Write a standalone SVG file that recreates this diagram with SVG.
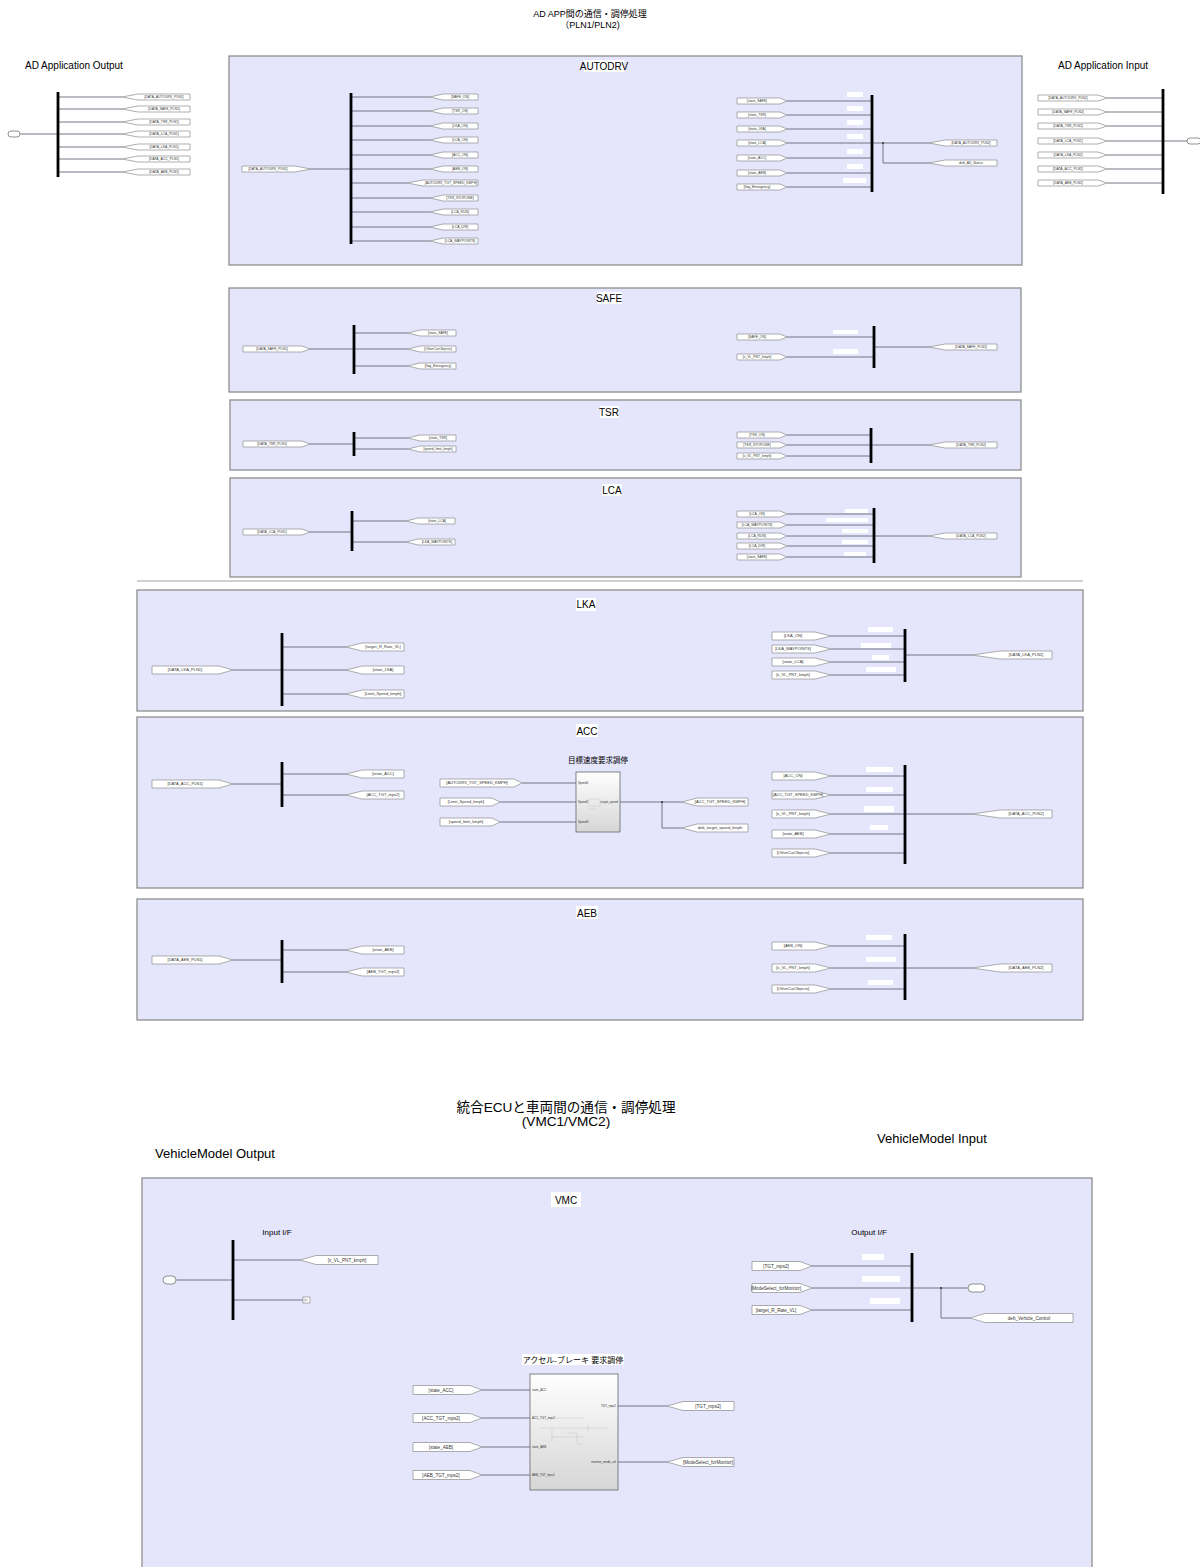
<svg xmlns="http://www.w3.org/2000/svg" width="1200" height="1567" viewBox="0 0 1200 1567">
<style>
.box{fill:#e5e5fb;stroke:#8e8e8e;stroke-width:1.3}
.tag{fill:#fff;stroke:#8c8c8c;stroke-width:0.7}
.ln{fill:none;stroke:#66667c;stroke-width:0.9}
.bus{stroke:#000;stroke-width:2.8}
.mask{fill:#fff}
.port{fill:#fff;stroke:#777;stroke-width:0.8}
.dot{fill:#333}
.s{font-family:"Liberation Sans",Arial,sans-serif;fill:#333;text-anchor:middle;font-size:3.4px}
.m{font-family:"Liberation Sans",Arial,sans-serif;fill:#333;text-anchor:middle;font-size:4px}
.v{font-family:"Liberation Sans",Arial,sans-serif;fill:#333;text-anchor:middle;font-size:4.6px}
.h{font-family:"Liberation Sans",Arial,sans-serif;fill:#000;font-size:10px}
.h2{font-family:"Liberation Sans",Arial,sans-serif;fill:#000;font-size:13px}
.ttl{font-family:"Liberation Sans",Arial,sans-serif;fill:#000;text-anchor:middle;font-size:10px}
.jp{font-family:"Liberation Sans","Noto Sans CJK JP",sans-serif;fill:#000;text-anchor:middle}
.blk{fill:url(#g);stroke:#666;stroke-width:0.8}
.pl{font-family:"Liberation Sans",Arial,sans-serif;fill:#333;font-size:3px}
.pr{font-family:"Liberation Sans",Arial,sans-serif;fill:#333;font-size:3px;text-anchor:end}
.faint{fill:none;stroke:#bbb;stroke-width:0.4}
</style>
<defs>
<linearGradient id="g" x1="0" y1="0" x2="0" y2="1"><stop offset="0" stop-color="#ffffff"/><stop offset="1" stop-color="#d6d6d6"/></linearGradient>
</defs>
<rect width="1200" height="1567" fill="#fff"/>

<!-- headers -->
<g id="headers">
<text class="jp" x="590" y="17" font-size="9">AD APP間の通信・調停処理</text>
<text class="jp" x="590" y="28" font-size="9">（PLN1/PLN2)</text>
<text class="h" x="25" y="69">AD Application Output</text>
<text class="h" x="1058" y="69">AD Application Input</text>
<text class="jp" x="566" y="1112" font-size="13.6">統合ECUと車両間の通信・調停処理</text>
<text class="jp" x="566" y="1126" font-size="13.6">(VMC1/VMC2)</text>
<text class="h2" x="877" y="1143">VehicleModel Input</text>
<text class="h2" x="155" y="1158">VehicleModel Output</text>
</g>

<!-- subsystem areas -->
<g id="AUTODRV"><rect class="box" x="229" y="56" width="793" height="209"/><rect class="mask" x="584" y="60" width="40" height="12"/><text class="ttl" x="604" y="70">AUTODRV</text></g>
<g id="SAFE"><rect class="box" x="229" y="288" width="792" height="104"/><rect class="mask" x="597" y="292" width="25" height="12"/><text class="ttl" x="609" y="302">SAFE</text></g>
<g id="TSR"><rect class="box" x="230" y="400" width="791" height="70"/><rect class="mask" x="600" y="406" width="19" height="12"/><text class="ttl" x="609" y="416">TSR</text></g>
<g id="LCA"><rect class="box" x="230" y="478" width="791" height="99"/><rect class="mask" x="602" y="484" width="20" height="12"/><text class="ttl" x="612" y="494">LCA</text></g>
<g id="LKA"><rect class="box" x="137" y="590" width="946" height="121"/><rect class="mask" x="576" y="598" width="20" height="13"/><text class="ttl" x="586" y="608" font-size="11">LKA</text></g>
<g id="ACC"><rect class="box" x="137" y="717" width="946" height="171"/><rect class="mask" x="576" y="724" width="22" height="13"/><text class="ttl" x="587" y="735" font-size="11">ACC</text></g>
<g id="AEB"><rect class="box" x="137" y="899" width="946" height="121"/><rect class="mask" x="576" y="906" width="22" height="13"/><text class="ttl" x="587" y="917" font-size="11">AEB</text></g>
<g id="VMC"><rect class="box" x="142" y="1178" width="950" height="400"/><rect class="mask" x="551" y="1192" width="30" height="15"/><text class="ttl" x="566" y="1204" font-size="13">VMC</text>
<text class="jp" x="277" y="1235" font-size="8">Input I/F</text><text class="jp" x="869" y="1235" font-size="8">Output I/F</text></g>
<line id="separator" x1="137" y1="581" x2="1083" y2="581" stroke="#888" stroke-width="0.8"/>

<!-- connectors -->
<g id="connectors" class="ln">
<path d="M20 134H58M58 97H122M58 109H122M58 122H122M58 134H122M58 147H122M58 159H122M58 172H122"/>
<path d="M311 169H351M351 97H430M351 111H430M351 126H430M351 140H430M351 155H430M351 169H430M351 183H407M351 198H430M351 212H430M351 227H430M351 241H430"/>
<path d="M787 101H872M787 115H872M787 129H872M787 143H872M787 158H872M787 173H872M787 187H872M872 143H929M883 143V163H929"/>
<path d="M1107 98H1163M1107 112H1163M1107 126H1163M1107 141H1163M1107 155H1163M1107 169H1163M1107 183H1163M1163 141H1187"/>
<path d="M310 349H354M354 333H408M354 349H408M354 366H408M787 337H874M787 357H874M874 347H929"/>
<path d="M310 444H354M354 438H408M354 449H408M787 435H871M787 445H871M787 456H871M871 445H929"/>
<path d="M310 532H352M352 521H406M352 542H406M787 514H874M787 525H874M787 536H874M787 546H874M787 557H874M874 536H929"/>
<path d="M233 670H282M282 647H346M282 670H346M282 694H346M831 636H905M831 649H905M831 662H905M831 675H905M905 655H972"/>
<path d="M233 784H282M282 774H346M282 795H346M522 783H576M500 802H576M500 822H576M620 802H682M662 802V828H682M831 776H905M831 795H905M831 814H905M831 834H905M831 853H905M905 814H972"/>
<path d="M233 960H282M282 950H346M282 972H346M831 946H905M831 968H905M831 989H905M905 968H972"/>
<path d="M176 1280H233M233 1260H300M233 1300H303M812 1266H912M812 1288H912M812 1310H912M912 1288H968M941 1288V1318H970"/>
<path d="M482 1390H530M482 1418H530M482 1447H530M482 1475H530M618 1406H667M618 1462H667"/>
</g>

<!-- buses -->
<g id="buses" class="bus">
<line id="bus_ado" x1="58" y1="92" x2="58" y2="177"/>
<line id="bus_ad1" x1="351" y1="93" x2="351" y2="244"/>
<line id="bus_ad2" x1="872" y1="95" x2="872" y2="192"/>
<line id="bus_adi" x1="1163" y1="89" x2="1163" y2="194"/>
<line id="bus_sf1" x1="354" y1="325" x2="354" y2="374"/>
<line id="bus_sf2" x1="874" y1="326" x2="874" y2="368"/>
<line id="bus_ts1" x1="354" y1="432" x2="354" y2="456"/>
<line id="bus_ts2" x1="871" y1="428" x2="871" y2="463"/>
<line id="bus_lc1" x1="352" y1="511" x2="352" y2="551"/>
<line id="bus_lc2" x1="874" y1="508" x2="874" y2="563"/>
<line id="bus_lk1" x1="282" y1="633" x2="282" y2="706"/>
<line id="bus_lk2" x1="905" y1="629" x2="905" y2="682"/>
<line id="bus_ac1" x1="282" y1="762" x2="282" y2="807"/>
<line id="bus_ac2" x1="905" y1="765" x2="905" y2="864"/>
<line id="bus_ae1" x1="282" y1="940" x2="282" y2="983"/>
<line id="bus_ae2" x1="905" y1="934" x2="905" y2="1000"/>
<line id="bus_vm1" x1="233" y1="1240" x2="233" y2="1320"/>
<line id="bus_vm2" x1="912" y1="1253" x2="912" y2="1322"/>
</g>

<!-- dots -->
<g id="dots" class="dot">
<circle cx="883" cy="143" r="1"/><circle cx="662" cy="802" r="1"/><circle cx="941" cy="1288" r="1"/>
</g>

<!-- masks (hidden labels) -->
<g id="masks" class="mask">
<rect x="847" y="92" width="16" height="5"/><rect x="847" y="106" width="16" height="5"/><rect x="847" y="120" width="16" height="5"/><rect x="847" y="134" width="16" height="5"/><rect x="847" y="149" width="16" height="5"/><rect x="847" y="164" width="16" height="5"/><rect x="843" y="178" width="23" height="5"/>
<rect x="833" y="330" width="25" height="4"/><rect x="833" y="349" width="25" height="5"/>
<rect x="845" y="509" width="23" height="4"/><rect x="826" y="518" width="42" height="4"/><rect x="842" y="529" width="26" height="4"/><rect x="842" y="540" width="26" height="4"/><rect x="844" y="552" width="22" height="4"/>
<rect x="868" y="627" width="25" height="5"/><rect x="861" y="643" width="30" height="5"/><rect x="872" y="655" width="17" height="5"/><rect x="866" y="667" width="30" height="5"/>
<rect x="866" y="767" width="27" height="5"/><rect x="866" y="787" width="27" height="5"/><rect x="864" y="806" width="30" height="6"/><rect x="870" y="825" width="18" height="5"/>
<rect x="866" y="935" width="26" height="5"/><rect x="866" y="957" width="30" height="5"/><rect x="868" y="980" width="25" height="5"/>
<rect x="862" y="1254" width="22" height="6"/><rect x="862" y="1276" width="38" height="6"/><rect x="870" y="1298" width="30" height="6"/>
</g>

<!-- ports -->
<g id="port_ado"><rect class="port" x="8" y="131" width="12" height="6" rx="3"/></g>
<g id="port_adi"><rect class="port" x="1187" y="138" width="14" height="6" rx="3"/></g>
<g id="port_vmin"><rect class="port" x="163" y="1276" width="13" height="8" rx="4"/></g>
<g id="port_vmout"><rect class="port" x="968" y="1284" width="17" height="8" rx="4"/></g>
<g id="term_vm"><rect class="tag" x="303" y="1297" width="7" height="6"/><path d="M305 1298.5V1301.5M305 1300H308" stroke="#666" stroke-width="0.5"/></g>

<!-- AD Application Output gotos -->
<g id="ado1"><polygon class="tag" points="122,97 138,94 190,94 190,100 138,100"/><text class="s" x="164" y="98.2">[DATA_AUTODRV_PLN1]</text></g>
<g id="ado2"><polygon class="tag" points="122,109 138,106 190,106 190,112 138,112"/><text class="s" x="164" y="110.2">[DATA_SAFE_PLN1]</text></g>
<g id="ado3"><polygon class="tag" points="122,122 138,119 190,119 190,125 138,125"/><text class="s" x="164" y="123.2">[DATA_TSR_PLN1]</text></g>
<g id="ado4"><polygon class="tag" points="122,134 138,131 190,131 190,137 138,137"/><text class="s" x="164" y="135.2">[DATA_LCA_PLN1]</text></g>
<g id="ado5"><polygon class="tag" points="122,147 138,144 190,144 190,150 138,150"/><text class="s" x="164" y="148.2">[DATA_LKA_PLN1]</text></g>
<g id="ado6"><polygon class="tag" points="122,159 138,156 190,156 190,162 138,162"/><text class="s" x="164" y="160.2">[DATA_ACC_PLN1]</text></g>
<g id="ado7"><polygon class="tag" points="122,172 138,169 190,169 190,175 138,175"/><text class="s" x="164" y="173.2">[DATA_AEB_PLN1]</text></g>

<!-- AUTODRV -->
<g id="ad_in"><polygon class="tag" points="242,166 295,166 311,169 295,172 242,172"/><text class="s" x="268" y="170.2">[DATA_AUTODRV_PLN1]</text></g>
<g id="ad_o1"><polygon class="tag" points="430,97 443,94 478,94 478,100 443,100"/><text class="s" x="460" y="98.2">[SAFE_ON]</text></g>
<g id="ad_o2"><polygon class="tag" points="430,111 443,108 478,108 478,114 443,114"/><text class="s" x="460" y="112.2">[TSR_ON]</text></g>
<g id="ad_o3"><polygon class="tag" points="430,126 443,123 478,123 478,129 443,129"/><text class="s" x="460" y="127.2">[LKA_ON]</text></g>
<g id="ad_o4"><polygon class="tag" points="430,140 443,137 478,137 478,143 443,143"/><text class="s" x="460" y="141.2">[LCA_ON]</text></g>
<g id="ad_o5"><polygon class="tag" points="430,155 443,152 478,152 478,158 443,158"/><text class="s" x="460" y="156.2">[ACC_ON]</text></g>
<g id="ad_o6"><polygon class="tag" points="430,169 443,166 478,166 478,172 443,172"/><text class="s" x="460" y="170.2">[AEB_ON]</text></g>
<g id="ad_o7"><polygon class="tag" points="407,183 423,180 478,180 478,186 423,186"/><text class="s" x="451" y="184.2">[AUTODRV_TGT_SPEED_KMPH]</text></g>
<g id="ad_o8"><polygon class="tag" points="430,198 443,195 478,195 478,201 443,201"/><text class="s" x="460" y="199.2">[TSR_STOPLINE]</text></g>
<g id="ad_o9"><polygon class="tag" points="430,212 443,209 478,209 478,215 443,215"/><text class="s" x="460" y="213.2">[LCA_RUN]</text></g>
<g id="ad_o10"><polygon class="tag" points="430,227 443,224 478,224 478,230 443,230"/><text class="s" x="460" y="228.2">[LCA_DIR]</text></g>
<g id="ad_o11"><polygon class="tag" points="430,241 443,238 478,238 478,244 443,244"/><text class="s" x="460" y="242.2">[LCA_WAYPOINTS]</text></g>
<g id="ad_f1"><polygon class="tag" points="737,98 780,98 787,101 780,104 737,104"/><text class="s" x="757" y="102.2">[state_SAFE]</text></g>
<g id="ad_f2"><polygon class="tag" points="737,112 780,112 787,115 780,118 737,118"/><text class="s" x="757" y="116.2">[state_TSR]</text></g>
<g id="ad_f3"><polygon class="tag" points="737,126 780,126 787,129 780,132 737,132"/><text class="s" x="757" y="130.2">[state_LKA]</text></g>
<g id="ad_f4"><polygon class="tag" points="737,140 780,140 787,143 780,146 737,146"/><text class="s" x="757" y="144.2">[state_LCA]</text></g>
<g id="ad_f5"><polygon class="tag" points="737,155 780,155 787,158 780,161 737,161"/><text class="s" x="757" y="159.2">[state_ACC]</text></g>
<g id="ad_f6"><polygon class="tag" points="737,170 780,170 787,173 780,176 737,176"/><text class="s" x="757" y="174.2">[state_AEB]</text></g>
<g id="ad_f7"><polygon class="tag" points="737,184 780,184 787,187 780,190 737,190"/><text class="s" x="757" y="188.2">[flag_Emergency]</text></g>
<g id="ad_out"><polygon class="tag" points="929,143 945,140 997,140 997,146 945,146"/><text class="s" x="971" y="144.2">[DATA_AUTODRV_PLN2]</text></g>
<g id="ad_deb"><polygon class="tag" points="929,163 945,160 997,160 997,166 945,166"/><text class="s" x="971" y="164.2">deb_AD_Status</text></g>

<!-- AD Application Input froms -->
<g id="adi1"><polygon class="tag" points="1038,95 1098,95 1107,98 1098,101 1038,101"/><text class="s" x="1068" y="99.2">[DATA_AUTODRV_PLN2]</text></g>
<g id="adi2"><polygon class="tag" points="1038,109 1098,109 1107,112 1098,115 1038,115"/><text class="s" x="1068" y="113.2">[DATA_SAFE_PLN2]</text></g>
<g id="adi3"><polygon class="tag" points="1038,123 1098,123 1107,126 1098,129 1038,129"/><text class="s" x="1068" y="127.2">[DATA_TSR_PLN2]</text></g>
<g id="adi4"><polygon class="tag" points="1038,138 1098,138 1107,141 1098,144 1038,144"/><text class="s" x="1068" y="142.2">[DATA_LCA_PLN2]</text></g>
<g id="adi5"><polygon class="tag" points="1038,152 1098,152 1107,155 1098,158 1038,158"/><text class="s" x="1068" y="156.2">[DATA_LKA_PLN2]</text></g>
<g id="adi6"><polygon class="tag" points="1038,166 1098,166 1107,169 1098,172 1038,172"/><text class="s" x="1068" y="170.2">[DATA_ACC_PLN2]</text></g>
<g id="adi7"><polygon class="tag" points="1038,180 1098,180 1107,183 1098,186 1038,186"/><text class="s" x="1068" y="184.2">[DATA_AEB_PLN2]</text></g>

<!-- SAFE -->
<g id="sf_in"><polygon class="tag" points="243,346 302,346 310,349 302,352 243,352"/><text class="s" x="272" y="350.2">[DATA_SAFE_PLN1]</text></g>
<g id="sf_o1"><polygon class="tag" points="408,333 420,330 456,330 456,336 420,336"/><text class="s" x="438" y="334.2">[state_SAFE]</text></g>
<g id="sf_o2"><polygon class="tag" points="408,349 420,346 456,346 456,352 420,352"/><text class="s" x="438" y="350.2">[OtherCarObjects]</text></g>
<g id="sf_o3"><polygon class="tag" points="408,366 420,363 456,363 456,369 420,369"/><text class="s" x="438" y="367.2">[flag_Emergency]</text></g>
<g id="sf_f1"><polygon class="tag" points="737,334 780,334 787,337 780,340 737,340"/><text class="s" x="757" y="338.2">[SAFE_ON]</text></g>
<g id="sf_f2"><polygon class="tag" points="737,354 780,354 787,357 780,360 737,360"/><text class="s" x="757" y="358.2">[v_VL_PNT_kmph]</text></g>
<g id="sf_out"><polygon class="tag" points="929,347 945,344 997,344 997,350 945,350"/><text class="s" x="971" y="348.2">[DATA_SAFE_PLN2]</text></g>

<!-- TSR -->
<g id="ts_in"><polygon class="tag" points="243,441 302,441 310,444 302,447 243,447"/><text class="s" x="272" y="445.2">[DATA_TSR_PLN1]</text></g>
<g id="ts_o1"><polygon class="tag" points="408,438 420,435 456,435 456,441 420,441"/><text class="s" x="438" y="439.2">[state_TSR]</text></g>
<g id="ts_o2"><polygon class="tag" points="408,449 420,446 456,446 456,452 420,452"/><text class="s" x="438" y="450.2">[speed_limit_kmph]</text></g>
<g id="ts_f1"><polygon class="tag" points="737,432 780,432 787,435 780,438 737,438"/><text class="s" x="757" y="436.2">[TSR_ON]</text></g>
<g id="ts_f2"><polygon class="tag" points="737,442 780,442 787,445 780,448 737,448"/><text class="s" x="757" y="446.2">[TSR_STOPLINE]</text></g>
<g id="ts_f3"><polygon class="tag" points="737,453 780,453 787,456 780,459 737,459"/><text class="s" x="757" y="457.2">[v_VL_PNT_kmph]</text></g>
<g id="ts_out"><polygon class="tag" points="929,445 945,442 997,442 997,448 945,448"/><text class="s" x="971" y="446.2">[DATA_TSR_PLN2]</text></g>

<!-- LCA -->
<g id="lc_in"><polygon class="tag" points="243,529 302,529 310,532 302,535 243,535"/><text class="s" x="272" y="533.2">[DATA_LCA_PLN1]</text></g>
<g id="lc_o1"><polygon class="tag" points="406,521 418,518 455,518 455,524 418,524"/><text class="s" x="437" y="522.2">[state_LCA]</text></g>
<g id="lc_o2"><polygon class="tag" points="406,542 418,539 455,539 455,545 418,545"/><text class="s" x="437" y="543.2">[LKA_WAYPOINTS]</text></g>
<g id="lc_f1"><polygon class="tag" points="737,511 780,511 787,514 780,517 737,517"/><text class="s" x="757" y="515.2">[LCA_ON]</text></g>
<g id="lc_f2"><polygon class="tag" points="737,522 780,522 787,525 780,528 737,528"/><text class="s" x="757" y="526.2">[LCA_WAYPOINTS]</text></g>
<g id="lc_f3"><polygon class="tag" points="737,533 780,533 787,536 780,539 737,539"/><text class="s" x="757" y="537.2">[LCA_RUN]</text></g>
<g id="lc_f4"><polygon class="tag" points="737,543 780,543 787,546 780,549 737,549"/><text class="s" x="757" y="547.2">[LCA_DIR]</text></g>
<g id="lc_f5"><polygon class="tag" points="737,554 780,554 787,557 780,560 737,560"/><text class="s" x="757" y="558.2">[state_SAFE]</text></g>
<g id="lc_out"><polygon class="tag" points="929,536 945,533 997,533 997,539 945,539"/><text class="s" x="971" y="537.2">[DATA_LCA_PLN2]</text></g>

<!-- LKA -->
<g id="lk_in"><polygon class="tag" points="152,666 219,666 233,670 219,674 152,674"/><text class="m" x="185" y="671.4">[DATA_LKA_PLN1]</text></g>
<g id="lk_o1"><polygon class="tag" points="346,647 362,643 404,643 404,651 362,651"/><text class="m" x="383" y="648.4">[target_R_Rate_VL]</text></g>
<g id="lk_o2"><polygon class="tag" points="346,670 362,666 404,666 404,674 362,674"/><text class="m" x="383" y="671.4">[state_LKA]</text></g>
<g id="lk_o3"><polygon class="tag" points="346,694 362,690 404,690 404,698 362,698"/><text class="m" x="383" y="695.4">[Limit_Speed_kmph]</text></g>
<g id="lk_f1"><polygon class="tag" points="772,632 815,632 831,636 815,640 772,640"/><text class="m" x="793" y="637.4">[LKA_ON]</text></g>
<g id="lk_f2"><polygon class="tag" points="772,645 815,645 831,649 815,653 772,653"/><text class="m" x="793" y="650.4">[LKA_WAYPOINTS]</text></g>
<g id="lk_f3"><polygon class="tag" points="772,658 815,658 831,662 815,666 772,666"/><text class="m" x="793" y="663.4">[state_LCA]</text></g>
<g id="lk_f4"><polygon class="tag" points="772,671 815,671 831,675 815,679 772,679"/><text class="m" x="793" y="676.4">[v_VL_PNT_kmph]</text></g>
<g id="lk_out"><polygon class="tag" points="972,655 1000,651 1052,651 1052,659 1000,659"/><text class="m" x="1026" y="656.4">[DATA_LKA_PLN2]</text></g>

<!-- ACC -->
<g id="ac_in"><polygon class="tag" points="152,780 219,780 233,784 219,788 152,788"/><text class="m" x="185" y="785.4">[DATA_ACC_PLN1]</text></g>
<g id="ac_o1"><polygon class="tag" points="346,774 362,770 404,770 404,778 362,778"/><text class="m" x="383" y="775.4">[state_ACC]</text></g>
<g id="ac_o2"><polygon class="tag" points="346,795 362,791 404,791 404,799 362,799"/><text class="m" x="383" y="796.4">[ACC_TGT_mps2]</text></g>
<g id="ac_blk"><text class="jp" x="598" y="763" font-size="7.5">目標速度要求調停</text><rect class="blk" x="576" y="772" width="44" height="60"/>
<text class="pl" x="578" y="784">Speed1</text><text class="pl" x="578" y="803">Speed2</text><text class="pl" x="578" y="823">Speed3</text><text class="pr" x="618" y="803">target_speed</text>
<path class="faint" d="M588 799H600V806H588M600 802H606M589 809H596"/></g>
<g id="ac_s1"><polygon class="tag" points="440,779 514,779 522,783 514,787 440,787"/><text class="m" x="477" y="784.4">[AUTODRV_TGT_SPEED_KMPH]</text></g>
<g id="ac_s2"><polygon class="tag" points="440,798 492,798 500,802 492,806 440,806"/><text class="m" x="466" y="803.4">[Limit_Speed_kmph]</text></g>
<g id="ac_s3"><polygon class="tag" points="440,818 492,818 500,822 492,826 440,826"/><text class="m" x="466" y="823.4">[speed_limit_kmph]</text></g>
<g id="ac_t1"><polygon class="tag" points="682,802 697,798 748,798 748,806 697,806"/><text class="m" x="720" y="803.4">[ACC_TGT_SPEED_KMPH]</text></g>
<g id="ac_t2"><polygon class="tag" points="682,828 697,824 748,824 748,832 697,832"/><text class="m" x="720" y="829.4">deb_target_speed_kmph</text></g>
<g id="ac_f1"><polygon class="tag" points="772,772 815,772 831,776 815,780 772,780"/><text class="m" x="793" y="777.4">[ACC_ON]</text></g>
<g id="ac_f2"><polygon class="tag" points="772,791 815,791 831,795 815,799 772,799"/><text class="m" x="798" y="796.4">[ACC_TGT_SPEED_KMPH]</text></g>
<g id="ac_f3"><polygon class="tag" points="772,810 815,810 831,814 815,818 772,818"/><text class="m" x="793" y="815.4">[v_VL_PNT_kmph]</text></g>
<g id="ac_f4"><polygon class="tag" points="772,830 815,830 831,834 815,838 772,838"/><text class="m" x="793" y="835.4">[state_AEB]</text></g>
<g id="ac_f5"><polygon class="tag" points="772,849 815,849 831,853 815,857 772,857"/><text class="m" x="793" y="854.4">[OtherCarObjects]</text></g>
<g id="ac_out"><polygon class="tag" points="972,814 1000,810 1052,810 1052,818 1000,818"/><text class="m" x="1026" y="815.4">[DATA_ACC_PLN2]</text></g>

<!-- AEB -->
<g id="ae_in"><polygon class="tag" points="152,956 219,956 233,960 219,964 152,964"/><text class="m" x="185" y="961.4">[DATA_AEB_PLN1]</text></g>
<g id="ae_o1"><polygon class="tag" points="346,950 362,946 404,946 404,954 362,954"/><text class="m" x="383" y="951.4">[state_AEB]</text></g>
<g id="ae_o2"><polygon class="tag" points="346,972 362,968 404,968 404,976 362,976"/><text class="m" x="383" y="973.4">[AEB_TGT_mps2]</text></g>
<g id="ae_f1"><polygon class="tag" points="772,942 815,942 831,946 815,950 772,950"/><text class="m" x="793" y="947.4">[AEB_ON]</text></g>
<g id="ae_f2"><polygon class="tag" points="772,964 815,964 831,968 815,972 772,972"/><text class="m" x="793" y="969.4">[v_VL_PNT_kmph]</text></g>
<g id="ae_f3"><polygon class="tag" points="772,985 815,985 831,989 815,993 772,993"/><text class="m" x="793" y="990.4">[OtherCarObjects]</text></g>
<g id="ae_out"><polygon class="tag" points="972,968 1000,964 1052,964 1052,972 1000,972"/><text class="m" x="1026" y="969.4">[DATA_AEB_PLN2]</text></g>

<!-- VMC -->
<g id="vm_o1"><polygon class="tag" points="300,1260 316,1255.5 378,1255.5 378,1264.5 316,1264.5"/><text class="v" x="347" y="1261.6">[v_VL_PNT_kmph]</text></g>
<g id="vm_f1"><polygon class="tag" points="752,1261.5 800,1261.5 812,1266 800,1270.5 752,1270.5"/><text class="v" x="776" y="1267.6">[TGT_mps2]</text></g>
<g id="vm_f2"><polygon class="tag" points="752,1283.5 800,1283.5 812,1288 800,1292.5 752,1292.5"/><text class="v" x="776" y="1289.6">[ModeSelect_forMonitor]</text></g>
<g id="vm_f3"><polygon class="tag" points="752,1305.5 800,1305.5 812,1310 800,1314.5 752,1314.5"/><text class="v" x="776" y="1311.6">[target_R_Rate_VL]</text></g>
<g id="vm_deb"><polygon class="tag" points="970,1318 985,1313.5 1073,1313.5 1073,1322.5 985,1322.5"/><text class="v" x="1029" y="1319.6">deb_Vehicle_Control</text></g>
<g id="vm_blk"><rect class="mask" x="522" y="1354" width="102" height="11"/><text class="jp" x="573" y="1363" font-size="8">アクセル-ブレーキ 要求調停</text><rect class="blk" x="530" y="1374" width="88" height="116"/>
<text class="pl" x="532" y="1391">state_ACC</text><text class="pl" x="532" y="1419">ACC_TGT_mps2</text><text class="pl" x="532" y="1448">state_AEB</text><text class="pl" x="532" y="1476">AEB_TGT_mps2</text>
<text class="pr" x="616" y="1407">TGT_mps2</text><text class="pr" x="616" y="1463">monitor_mode_sel</text>
<path class="faint" d="M555 1418H585M540 1428H607M551 1437H585M552 1428V1441M567 1433H577V1444H583M588 1425V1432"/></g>
<g id="vm_s1"><polygon class="tag" points="413,1385.5 470,1385.5 482,1390 470,1394.5 413,1394.5"/><text class="v" x="441" y="1391.6">[state_ACC]</text></g>
<g id="vm_s2"><polygon class="tag" points="413,1413.5 470,1413.5 482,1418 470,1422.5 413,1422.5"/><text class="v" x="441" y="1419.6">[ACC_TGT_mps2]</text></g>
<g id="vm_s3"><polygon class="tag" points="413,1442.5 470,1442.5 482,1447 470,1451.5 413,1451.5"/><text class="v" x="441" y="1448.6">[state_AEB]</text></g>
<g id="vm_s4"><polygon class="tag" points="413,1470.5 470,1470.5 482,1475 470,1479.5 413,1479.5"/><text class="v" x="441" y="1476.6">[AEB_TGT_mps2]</text></g>
<g id="vm_t1"><polygon class="tag" points="667,1406 683,1401.5 734,1401.5 734,1410.5 683,1410.5"/><text class="v" x="708" y="1407.6">[TGT_mps2]</text></g>
<g id="vm_t2"><polygon class="tag" points="667,1462 683,1457.5 734,1457.5 734,1466.5 683,1466.5"/><text class="v" x="708" y="1463.6">[ModeSelect_forMonitor]</text></g>
</svg>
